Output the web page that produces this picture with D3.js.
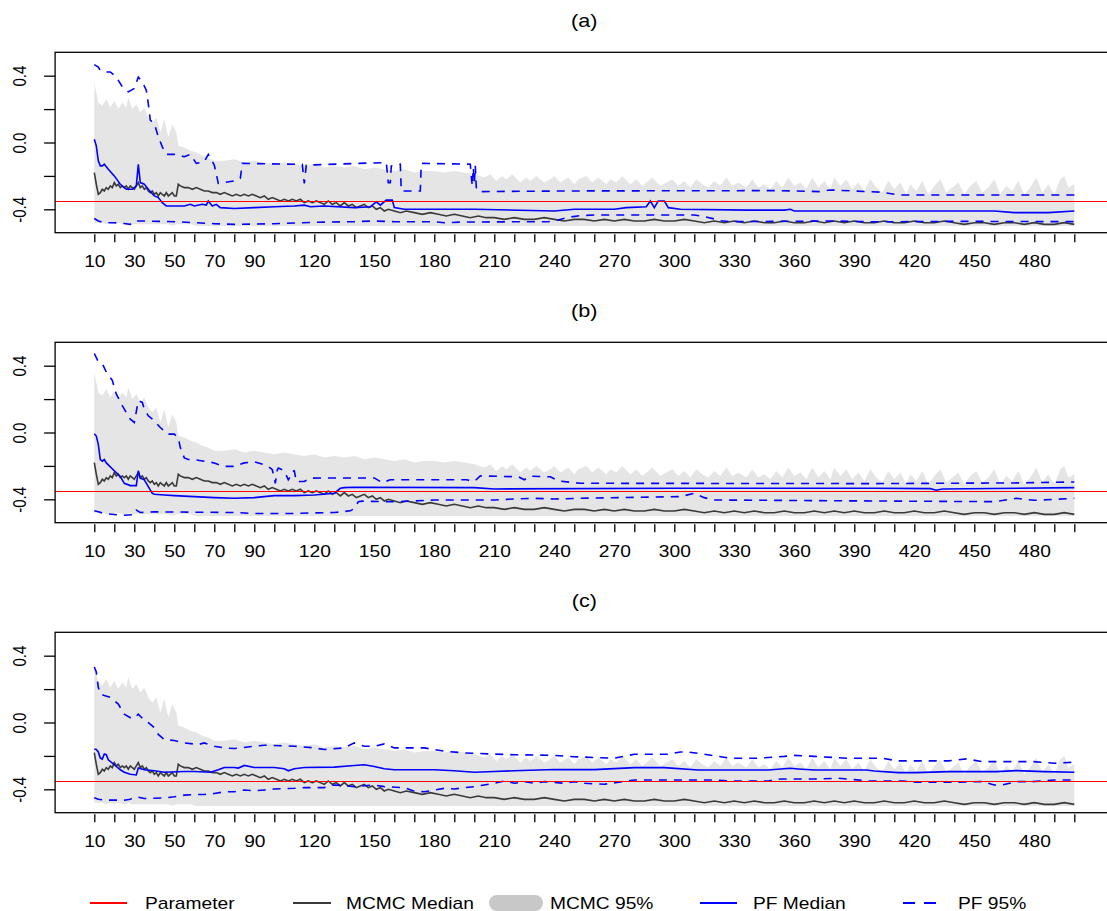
<!DOCTYPE html>
<html>
<head>
<meta charset="utf-8">
<script src="https://cdn.jsdelivr.net/npm/d3@7"></script>
<style>
  body { margin: 0; background: #fff; }
  svg { display: block; }
  text { font-family: "Liberation Sans", Arial, Helvetica, sans-serif; fill: #000; }
</style>
</head>
<body>
<div id="chart"></div>
<script>
// ---- data ----
var panelTitles = ['(a)', '(b)', '(c)'];
var xTicks = d3.range(10, 501, 10);
var xLabels = [10, 30, 50, 70, 90, 120, 150, 180, 210, 240, 270, 300, 330, 360, 390, 420, 450, 480];
var yTicks = [-0.4, -0.2, 0, 0.2, 0.4];
var yLabels = [-0.4, 0, 0.4];
var param = -0.35;

// MCMC 95% band: [t, lower, upper] (same in all panels)
var mcmcBand = [
  [10,-0.48,0.36],[11,-0.48,0.30],[12,-0.48,0.24],[14,-0.48,0.22],[16,-0.49,0.26],[18,-0.48,0.21],
  [20,-0.49,0.25],[22,-0.48,0.20],[24,-0.49,0.24],[26,-0.49,0.21],[27,-0.48,0.27],[29,-0.49,0.20],
  [31,-0.49,0.23],[33,-0.49,0.18],[35,-0.49,0.21],[37,-0.49,0.15],[39,-0.49,0.12],[41,-0.49,0.15],
  [43,-0.49,0.06],[45,-0.49,0.14],[47,-0.49,0.03],[49,-0.50,0.11],[51,-0.49,0.06],[52,-0.49,-0.02],
  [55,-0.49,-0.03],[58,-0.49,-0.05],[61,-0.50,-0.06],[64,-0.50,-0.08],[67,-0.50,-0.09],[70,-0.50,-0.11],
  [75,-0.50,-0.11],[80,-0.50,-0.10],[85,-0.50,-0.12],[90,-0.50,-0.11],[95,-0.50,-0.12],[100,-0.50,-0.13],
  [105,-0.50,-0.12],[110,-0.50,-0.13],[115,-0.50,-0.14],[120,-0.50,-0.13],[125,-0.50,-0.15],[130,-0.50,-0.14],
  [135,-0.50,-0.15],[140,-0.50,-0.14],[145,-0.50,-0.16],[150,-0.50,-0.15],[155,-0.50,-0.16],[160,-0.50,-0.17],
  [165,-0.50,-0.16],[170,-0.50,-0.18],[175,-0.50,-0.17],[180,-0.50,-0.17],[185,-0.50,-0.18],[190,-0.50,-0.17],
  [195,-0.50,-0.18],[200,-0.50,-0.19],[205,-0.50,-0.21],
  [208,-0.50,-0.19],[211,-0.50,-0.23],[214,-0.50,-0.20],[216,-0.50,-0.22],[219,-0.50,-0.19],[223,-0.50,-0.24],
  [226,-0.50,-0.21],[228,-0.50,-0.23],[231,-0.50,-0.20],[235,-0.50,-0.24],[238,-0.50,-0.22],[240,-0.50,-0.20],
  [243,-0.50,-0.24],[247,-0.50,-0.21],[250,-0.50,-0.25],[252,-0.50,-0.22],[256,-0.50,-0.20],[259,-0.50,-0.24],
  [262,-0.50,-0.21],[266,-0.50,-0.25],[268,-0.50,-0.22],[271,-0.50,-0.24],[274,-0.50,-0.20],[278,-0.50,-0.25],
  [281,-0.50,-0.22],[284,-0.50,-0.26],[287,-0.50,-0.23],[289,-0.50,-0.21],[293,-0.50,-0.26],[296,-0.50,-0.24],
  [299,-0.50,-0.22],[302,-0.50,-0.26],[305,-0.50,-0.23],[308,-0.50,-0.27],[311,-0.50,-0.22],[314,-0.50,-0.25],
  [317,-0.50,-0.27],[320,-0.50,-0.23],[323,-0.50,-0.26],[326,-0.50,-0.21],[329,-0.50,-0.26],[332,-0.50,-0.24],
  [336,-0.50,-0.27],[339,-0.50,-0.22],[342,-0.50,-0.27],[345,-0.50,-0.25],[348,-0.50,-0.28],[351,-0.50,-0.23],
  [354,-0.50,-0.27],[357,-0.50,-0.21],[360,-0.50,-0.26],[363,-0.50,-0.24],[366,-0.50,-0.28],[369,-0.50,-0.21],
  [372,-0.50,-0.27],[375,-0.50,-0.23],[378,-0.50,-0.28],[380,-0.50,-0.21],[383,-0.50,-0.26],[386,-0.50,-0.22],
  [389,-0.50,-0.28],[392,-0.50,-0.24],[395,-0.50,-0.29],[398,-0.50,-0.22],[401,-0.50,-0.27],[404,-0.50,-0.30],
  [407,-0.50,-0.23],[410,-0.50,-0.28],[413,-0.50,-0.24],[416,-0.50,-0.31],[418,-0.50,-0.25],[421,-0.50,-0.29],
  [424,-0.50,-0.23],[427,-0.50,-0.31],[430,-0.50,-0.26],[433,-0.50,-0.22],[436,-0.50,-0.30],[439,-0.50,-0.27],
  [442,-0.50,-0.24],[445,-0.50,-0.31],[448,-0.50,-0.26],[451,-0.50,-0.23],[454,-0.50,-0.30],[457,-0.50,-0.27],
  [460,-0.50,-0.22],[463,-0.50,-0.31],[466,-0.50,-0.26],[469,-0.50,-0.29],[472,-0.50,-0.23],[475,-0.50,-0.31],
  [478,-0.50,-0.27],[481,-0.50,-0.21],[484,-0.50,-0.30],[487,-0.50,-0.25],[490,-0.50,-0.31],[493,-0.50,-0.22],
  [495,-0.50,-0.20],[497,-0.50,-0.27],[500,-0.50,-0.25]
];

// MCMC median (same in all panels)
var mcmcMedian = [
  [10,-0.18],[11,-0.25],[12,-0.31],[13,-0.30],[14,-0.28],[15,-0.29],[16,-0.27],[17,-0.28],[18,-0.26],[19,-0.27],
  [20,-0.24],[21,-0.26],[22,-0.25],[23,-0.27],[24,-0.26],[25,-0.27],[26,-0.26],[27,-0.28],[28,-0.26],[29,-0.27],
  [30,-0.28],[31,-0.26],[32,-0.24],[33,-0.27],[34,-0.26],[35,-0.28],[36,-0.27],[37,-0.29],[38,-0.30],[39,-0.29],
  [40,-0.31],[41,-0.30],[42,-0.32],[43,-0.30],[44,-0.31],[45,-0.32],[46,-0.30],[47,-0.32],[48,-0.31],[49,-0.30],
  [50,-0.32],[51,-0.32],[52,-0.25],[53,-0.26],[55,-0.27],[57,-0.27],[59,-0.28],[61,-0.27],[63,-0.28],[65,-0.29],
  [67,-0.29],[69,-0.30],[71,-0.30],[73,-0.31],[75,-0.30],[77,-0.31],[79,-0.32],[81,-0.31],[83,-0.32],[85,-0.31],
  [87,-0.32],[89,-0.31],[91,-0.32],[93,-0.33],[95,-0.32],[97,-0.34],[99,-0.33],[101,-0.34],[103,-0.35],[105,-0.34],
  [107,-0.35],[109,-0.34],[111,-0.35],[113,-0.34],[115,-0.36],[117,-0.35],[119,-0.36],[121,-0.35],[123,-0.36],[125,-0.37],
  [127,-0.35],[129,-0.37],[131,-0.36],[133,-0.38],[135,-0.36],[137,-0.38],[139,-0.37],[141,-0.39],[143,-0.38],[145,-0.37],
  [147,-0.39],[149,-0.38],[151,-0.40],[153,-0.39],[155,-0.41],[157,-0.40],[160,-0.41],[163,-0.42],[166,-0.41],[170,-0.42],
  [174,-0.43],[178,-0.42],[182,-0.43],[186,-0.44],[190,-0.43],[194,-0.44],[198,-0.45],[202,-0.44],[206,-0.45],[210,-0.45],
  [215,-0.46],[220,-0.45],[225,-0.46],[230,-0.46],[235,-0.45],[240,-0.46],[245,-0.47],[250,-0.46],[255,-0.46],[260,-0.47],
  [265,-0.46],[270,-0.47],[275,-0.46],[280,-0.47],[285,-0.47],[290,-0.46],[295,-0.47],[300,-0.47],[305,-0.46],[310,-0.47],
  [315,-0.48],[320,-0.47],[325,-0.48],[330,-0.47],[335,-0.48],[340,-0.47],[345,-0.48],[350,-0.48],[355,-0.47],[360,-0.48],
  [365,-0.48],[370,-0.47],[375,-0.48],[380,-0.47],[385,-0.48],[390,-0.47],[395,-0.48],[400,-0.48],[405,-0.47],[410,-0.48],
  [415,-0.48],[420,-0.47],[425,-0.48],[430,-0.48],[435,-0.47],[440,-0.48],[445,-0.49],[450,-0.48],[455,-0.48],[460,-0.49],
  [465,-0.48],[470,-0.48],[475,-0.49],[480,-0.48],[485,-0.49],[490,-0.49],[495,-0.48],[500,-0.49]
];

// PF, panel (a)
var pfMedianA = [
  [10,0.02],[11,-0.02],[12,-0.11],[13,-0.14],[14,-0.14],[15,-0.13],[17,-0.16],[20,-0.20],[23,-0.25],[26,-0.28],
  [29,-0.28],[31,-0.26],[32,-0.13],[33,-0.24],[35,-0.25],[37,-0.28],[40,-0.32],[42,-0.33],[44,-0.36],[46,-0.38],
  [50,-0.38],[55,-0.38],[58,-0.37],[60,-0.38],[64,-0.37],[66,-0.375],[67,-0.35],[69,-0.38],[71,-0.37],[73,-0.39],
  [80,-0.395],[90,-0.39],[100,-0.385],[110,-0.38],[115,-0.375],[118,-0.385],[125,-0.38],[140,-0.39],[148,-0.385],
  [151,-0.355],[153,-0.375],[156,-0.345],[159,-0.345],[160,-0.39],[165,-0.40],[200,-0.40],[240,-0.41],[250,-0.40],
  [270,-0.40],[276,-0.39],[286,-0.385],[288,-0.35],[290,-0.39],[292,-0.35],[295,-0.35],[297,-0.39],[303,-0.40],
  [337,-0.405],[355,-0.405],[358,-0.40],[360,-0.41],[420,-0.41],[445,-0.41],[460,-0.41],[470,-0.42],[487,-0.42],[500,-0.41]
];
var pfUpperA = [
  [10,0.466],[12,0.452],[13,0.432],[15,0.422],[18,0.422],[21,0.392],[24,0.333],[27,0.303],[30,0.323],[32,0.392],
  [34,0.362],[36,0.313],[37,0.233],[38,0.134],[40,0.114],[42,0.034],[44,-0.026],[46,-0.071],[50,-0.071],[55,-0.085],
  [58,-0.071],[61,-0.125],[65,-0.115],[67,-0.071],[70,-0.135],[72,-0.245],[80,-0.23],[83,-0.215],[84,-0.125],
  [114,-0.131],[115,-0.245],[116,-0.135],[156,-0.12],[157,-0.24],[158,-0.24],[158.5,-0.14],[163,-0.13],[163.5,-0.29],
  [173,-0.29],[173.5,-0.125],[198,-0.13],[198.5,-0.2],[199,-0.26],[199.5,-0.15],[200,-0.24],[200.5,-0.14],[201,-0.27],
  [202,-0.294],[250,-0.29],[352,-0.288],[373,-0.294],[378,-0.284],[404,-0.298],[412,-0.314],[500,-0.314]
];
var pfLowerA = [
  [10,-0.455],[12,-0.47],[15,-0.48],[20,-0.48],[25,-0.485],[28,-0.49],[30,-0.47],[35,-0.47],[50,-0.474],[60,-0.48],
  [70,-0.486],[80,-0.49],[100,-0.486],[120,-0.478],[140,-0.474],[150,-0.47],[160,-0.474],[180,-0.474],[185,-0.48],
  [195,-0.476],[237,-0.474],[242,-0.464],[247,-0.448],[253,-0.438],[260,-0.434],[310,-0.434],[315,-0.444],[320,-0.458],
  [323,-0.468],[328,-0.474],[380,-0.47],[400,-0.475],[440,-0.472],[500,-0.474]
];

// PF, panel (b)
var pfMedianB = [
  [10,-0.007],[11,-0.021],[12,-0.071],[13,-0.162],[14,-0.172],[15,-0.162],[16,-0.182],[20,-0.229],[23,-0.263],
  [25,-0.304],[28,-0.318],[31,-0.318],[32,-0.229],[33,-0.273],[35,-0.283],[37,-0.324],[39,-0.364],[40,-0.37],
  [45,-0.374],[50,-0.378],[60,-0.384],[70,-0.39],[80,-0.394],[90,-0.39],[100,-0.378],[110,-0.378],[120,-0.374],
  [130,-0.364],[133,-0.334],[135,-0.33],[140,-0.328],[200,-0.33],[210,-0.338],[300,-0.334],[400,-0.334],
  [428,-0.336],[431,-0.346],[434,-0.338],[500,-0.33]
];
var pfUpperB = [
  [10,0.473],[12,0.423],[14,0.413],[16,0.362],[19,0.312],[21,0.231],[24,0.161],[26,0.12],[28,0.08],[30,0.06],
  [32,0.19],[34,0.18],[35,0.14],[37,0.1],[40,0.07],[43,0.03],[45,0.01],[47,-0.01],[50,-0.01],[52,-0.03],[53,-0.09],
  [55,-0.152],[57,-0.162],[60,-0.162],[65,-0.172],[70,-0.182],[72,-0.192],[75,-0.203],[80,-0.203],[85,-0.182],
  [90,-0.176],[95,-0.192],[97,-0.203],[99,-0.223],[100.5,-0.304],[101.5,-0.223],[102,-0.213],[105,-0.229],
  [107,-0.283],[108,-0.263],[109,-0.233],[110,-0.229],[111,-0.293],[115,-0.293],[118,-0.273],[150,-0.272],
  [154,-0.30],[158,-0.283],[196,-0.283],[200,-0.293],[203,-0.26],[222,-0.265],[225,-0.283],[228,-0.262],
  [238,-0.265],[242,-0.29],[253,-0.304],[400,-0.306],[470,-0.302],[500,-0.296]
];
var pfLowerB = [
  [10,-0.469],[12,-0.475],[15,-0.485],[20,-0.491],[25,-0.495],[30,-0.491],[31,-0.465],[33,-0.479],[40,-0.475],
  [80,-0.479],[90,-0.485],[110,-0.485],[120,-0.481],[130,-0.479],[138,-0.469],[140,-0.455],[141,-0.435],[142,-0.415],
  [144,-0.411],[160,-0.415],[180,-0.404],[210,-0.404],[220,-0.398],[230,-0.394],[240,-0.398],[253,-0.394],
  [303,-0.384],[310,-0.364],[315,-0.39],[320,-0.404],[400,-0.41],[460,-0.414],[471,-0.394],[480,-0.406],[500,-0.394]
];

// PF, panel (c)
var pfMedianC = [
  [10,-0.158],[11,-0.162],[12,-0.176],[13,-0.213],[14,-0.219],[15,-0.189],[16,-0.193],[17,-0.223],[20,-0.253],
  [23,-0.283],[25,-0.298],[28,-0.31],[31,-0.314],[32,-0.273],[35,-0.283],[40,-0.289],[45,-0.298],[55,-0.293],
  [60,-0.293],[68,-0.298],[72,-0.283],[75,-0.269],[80,-0.269],[82,-0.273],[85,-0.257],[90,-0.269],[100,-0.269],
  [105,-0.277],[107,-0.289],[110,-0.277],[115,-0.269],[130,-0.267],[140,-0.257],[145,-0.253],[150,-0.263],
  [155,-0.277],[160,-0.283],[180,-0.283],[190,-0.289],[200,-0.298],[210,-0.293],[220,-0.289],[240,-0.281],
  [260,-0.282],[280,-0.27],[295,-0.27],[312,-0.284],[347,-0.284],[358,-0.274],[362,-0.278],[370,-0.284],
  [396,-0.284],[400,-0.29],[412,-0.30],[421,-0.30],[437,-0.294],[461,-0.294],[471,-0.288],[485,-0.294],[500,-0.298]
];
var pfUpperC = [
  [10,0.332],[11,0.302],[12,0.211],[13,0.171],[15,0.161],[18,0.151],[20,0.131],[22,0.11],[25,0.05],[28,0.029],
  [30,0.025],[32,0.05],[35,0.013],[37,-0.001],[40,-0.031],[42,-0.071],[45,-0.102],[50,-0.108],[55,-0.122],
  [62,-0.132],[65,-0.122],[70,-0.142],[75,-0.152],[80,-0.156],[90,-0.142],[95,-0.136],[110,-0.142],[120,-0.152],
  [125,-0.162],[135,-0.152],[140,-0.122],[145,-0.142],[150,-0.142],[155,-0.128],[160,-0.152],[175,-0.152],
  [185,-0.172],[195,-0.182],[210,-0.189],[220,-0.193],[240,-0.197],[250,-0.205],[270,-0.214],[280,-0.19],
  [297,-0.19],[303,-0.177],[307,-0.177],[315,-0.19],[328,-0.214],[341,-0.214],[355,-0.203],[360,-0.197],
  [370,-0.203],[387,-0.214],[404,-0.214],[412,-0.23],[437,-0.23],[446,-0.218],[454,-0.234],[479,-0.234],
  [490,-0.244],[500,-0.238]
];
var pfLowerC = [
  [10,-0.451],[12,-0.459],[15,-0.465],[25,-0.465],[28,-0.459],[31,-0.445],[35,-0.455],[45,-0.451],[50,-0.445],
  [55,-0.435],[60,-0.431],[65,-0.431],[70,-0.425],[75,-0.415],[80,-0.415],[85,-0.404],[90,-0.409],[95,-0.404],
  [100,-0.398],[110,-0.394],[115,-0.39],[125,-0.39],[130,-0.374],[135,-0.378],[140,-0.384],[150,-0.374],
  [155,-0.384],[165,-0.39],[170,-0.411],[175,-0.415],[180,-0.404],[185,-0.394],[190,-0.398],[195,-0.39],
  [200,-0.384],[205,-0.374],[210,-0.364],[215,-0.35],[220,-0.364],[225,-0.354],[230,-0.364],[235,-0.354],
  [245,-0.364],[250,-0.354],[255,-0.364],[265,-0.37],[274,-0.354],[280,-0.344],[320,-0.344],[328,-0.35],
  [347,-0.35],[353,-0.338],[370,-0.338],[382,-0.334],[390,-0.342],[397,-0.35],[414,-0.35],[421,-0.358],
  [437,-0.358],[454,-0.354],[460,-0.374],[464,-0.374],[471,-0.354],[479,-0.354],[490,-0.344],[500,-0.344]
];

var legendItems = ['Parameter', 'MCMC Median', 'MCMC 95%', 'PF Median', 'PF 95%'];

// ---- layout ----
var W = 1107, H = 911;
var plotLeft = 55.1, plotRight = 1113.5;
var panelTop = 52.3, panelH = 180.4, panelGap = 290;
var stretch = 1.2;  // R device output is a bit wider than tall

var svg = d3.select('#chart').append('svg')
  .attr('width', W).attr('height', H);

var x = d3.scaleLinear().domain([10 - 19.6, 500 + 19.6]).range([plotLeft, plotRight]);

var panels = [
  { med: pfMedianA, hi: pfUpperA, lo: pfLowerA },
  { med: pfMedianB, hi: pfUpperB, lo: pfLowerB },
  { med: pfMedianC, hi: pfUpperC, lo: pfLowerC }
];

panels.forEach(function (p, i) {
  var top = panelTop + i * panelGap;
  var bottom = top + panelH;
  var y = d3.scaleLinear().domain([-0.54, 0.54]).range([bottom, top]);
  var g = svg.append('g');

  var clipId = 'clip' + i;
  svg.append('clipPath').attr('id', clipId)
    .append('rect').attr('x', plotLeft).attr('y', top)
    .attr('width', plotRight - plotLeft).attr('height', panelH);

  var plot = g.append('g').attr('clip-path', 'url(#' + clipId + ')');

  var line = d3.line().x(function (d) { return x(d[0]); }).y(function (d) { return y(d[1]); });
  var area = d3.area()
    .x(function (d) { return x(d[0]); })
    .y0(function (d) { return y(d[1]); })
    .y1(function (d) { return y(d[2]); });

  plot.append('path').datum(mcmcBand).attr('d', area)
    .attr('fill', '#e5e5e5').attr('stroke', 'none');

  plot.append('path').datum(mcmcMedian).attr('d', line)
    .attr('fill', 'none').attr('stroke', '#3a3a3a').attr('stroke-width', 1.6);

  [p.hi, p.lo].forEach(function (s) {
    plot.append('path').datum(s).attr('d', line)
      .attr('fill', 'none').attr('stroke', '#0000ff').attr('stroke-width', 1.6)
      .attr('stroke-dasharray', '8,7');
  });
  plot.append('path').datum(p.med).attr('d', line)
    .attr('fill', 'none').attr('stroke', '#0000ff').attr('stroke-width', 1.6);

  // parameter value, snapped to the pixel grid so it stays crisp
  var py = Math.round(y(param)) + 0.5;
  plot.append('line')
    .attr('x1', plotLeft).attr('x2', plotRight)
    .attr('y1', py).attr('y2', py)
    .attr('stroke', '#ff0000').attr('stroke-width', 1);

  // frame
  g.append('rect').attr('x', plotLeft).attr('y', top)
    .attr('width', plotRight - plotLeft).attr('height', panelH)
    .attr('fill', 'none').attr('stroke', '#000').attr('stroke-width', 1.3);

  // x axis
  var xAxis = g.append('g').attr('transform', 'translate(0,' + (bottom + 1.5) + ')')
    .call(d3.axisBottom(x).tickValues(xTicks).tickSize(8).tickSizeOuter(0)
      .tickFormat(function (d) { return xLabels.indexOf(d) >= 0 ? d : ''; }));
  xAxis.select('.domain').remove();
  xAxis.selectAll('.tick line').attr('stroke', '#000').attr('stroke-width', 1.3);
  xAxis.selectAll('.tick text')
    .attr('y', 21.5).attr('dy', '0.71em')
    .attr('transform', 'scale(' + stretch + ',1)')
    .style('font-size', '16px').style('font-family', '"Liberation Sans", Arial, sans-serif')
    .attr('fill', '#000');

  // y axis
  var yAxis = g.append('g').attr('transform', 'translate(' + plotLeft + ',0)')
    .call(d3.axisLeft(y).tickValues(yTicks).tickSize(11).tickSizeOuter(0)
      .tickFormat(function (d) { return yLabels.indexOf(d) >= 0 ? d.toFixed(1) : ''; }));
  yAxis.select('.domain').remove();
  yAxis.selectAll('.tick line').attr('stroke', '#000').attr('stroke-width', 1.3);
  yAxis.selectAll('.tick text')
    .attr('x', 0).attr('y', 0).attr('dy', '0.36em')
    .attr('text-anchor', 'middle')
    .attr('transform', 'translate(-35.5,0) scale(' + stretch + ',1) rotate(-90)')
    .style('font-size', '15px').style('font-family', '"Liberation Sans", Arial, sans-serif')
    .attr('fill', '#000');

  // title
  svg.append('text')
    .attr('transform', 'translate(' + ((plotLeft + plotRight) / 2) + ',' + (top - 25.5) + ') scale(' + stretch + ',1)')
    .attr('text-anchor', 'middle')
    .style('font-size', '18px')
    .text(panelTitles[i]);
});

// ---- legend ----
var legendY = 903;
var lg = svg.append('g');
var legendKeys = [
  { x1: 90, x2: 127, tx: 145, color: '#ff0000', width: 2 },
  { x1: 293, x2: 331, tx: 346, color: '#3a3a3a', width: 2 },
  { x1: 497, x2: 535, tx: 550, color: '#c8c8c8', width: 16, cap: 'round' },
  { x1: 700, x2: 737, tx: 753, color: '#0000ff', width: 2 },
  { x1: 903, x2: 936, tx: 958, color: '#0000ff', width: 2, dash: '12,9' }
];
legendKeys.forEach(function (k, i) {
  lg.append('line')
    .attr('x1', k.x1).attr('x2', k.x2).attr('y1', legendY).attr('y2', legendY)
    .attr('stroke', k.color).attr('stroke-width', k.width)
    .attr('stroke-linecap', k.cap || 'butt')
    .attr('stroke-dasharray', k.dash || null);
  lg.append('text')
    .attr('transform', 'translate(' + k.tx + ',' + (legendY + 5.5) + ') scale(' + stretch + ',1)')
    .style('font-size', '16px')
    .text(legendItems[i]);
});
</script>
</body>
</html>
